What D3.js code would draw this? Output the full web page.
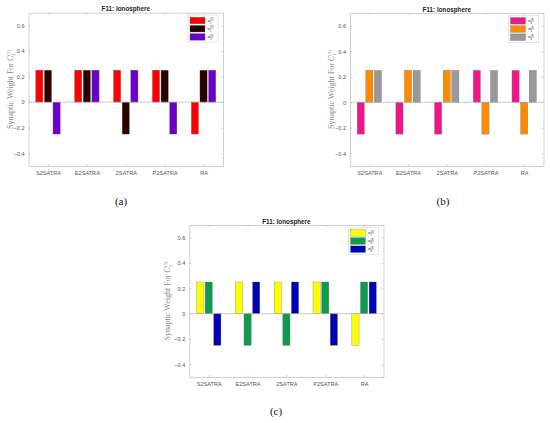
<!DOCTYPE html>
<html>
<head>
<meta charset="utf-8">
<script src="https://cdn.jsdelivr.net/npm/d3@7"></script>
<style>
  body { margin: 0; background: #fff; }
  svg { display: block; }
</style>
</head>
<body>
<script>
// methods on the x axis
var methods = ["S2SATRA", "E2SATRA", "2SATRA", "P2SATRA", "RA"];
var yTicks = [-0.4, -0.2, 0, 0.2, 0.4, 0.6];
var title = "F11: Ionosphere";

// panel (a)
var seriesA = [
  [0.25, 0.25, 0.25, 0.25, -0.25],
  [0.25, 0.25, -0.25, 0.25, 0.25],
  [-0.25, 0.25, 0.25, -0.25, 0.25]
];
var namesA = ["1", "2", "3"];
var colorsA = ["#ff0000", "#2a0000", "#6a00cc"];

// panel (b)
var seriesB = [
  [-0.25, -0.25, -0.25, 0.25, 0.25],
  [0.25, 0.25, 0.25, -0.25, -0.25],
  [0.25, 0.25, 0.25, 0.25, 0.25]
];
var namesB = ["4", "5", "6"];
var colorsB = ["#f0168a", "#ff8c00", "#999999"];

// panel (c)
var seriesC = [
  [0.25, 0.25, 0.25, 0.25, -0.25],
  [0.25, -0.25, -0.25, 0.25, 0.25],
  [-0.25, 0.25, 0.25, -0.25, 0.25]
];
var namesC = ["7", "8", "9"];
var colorsC = ["#ffff00", "#0f9a4e", "#0000b4"];

var svg = d3.select("body")
  .append("svg")
  .attr("width", 550)
  .attr("height", 423);

function panel(p) {
  var x = d3.scaleLinear().domain([0.5, 5.5]).range([p.left, p.right]);
  var y = d3.scaleLinear().domain([-0.5, 0.7]).range([p.bottom, p.top]);
  var g = svg.append("g");

  // grouped bars
  var offset = 0.222, bw = 0.185;
  p.series.forEach(function(vals, s) {
    g.selectAll(null)
      .data(vals)
      .enter()
      .append("rect")
        .attr("x", function(d, i) { return x(i + 1 + (s - 1) * offset - bw / 2); })
        .attr("width", x(1 + bw) - x(1))
        .attr("y", function(d) { return y(Math.max(0, d)); })
        .attr("height", function(d) { return Math.abs(y(d) - y(0)); })
        .style("fill", p.colors[s])
        .style("stroke", "#666")
        .style("stroke-width", 0.3);
  });

  // baseline
  g.append("line")
    .attr("x1", p.left).attr("x2", p.right)
    .attr("y1", y(0)).attr("y2", y(0))
    .style("stroke", "#aaa").style("stroke-width", 0.6);

  // axes (ticks inward)
  var fmt = function(d) { return d === 0 ? "0" : d3.format(".1f")(d); };
  var left = g.append("g")
    .attr("transform", "translate(" + p.left + ",0)")
    .call(d3.axisLeft(y).tickValues(yTicks).tickFormat(fmt).tickSizeInner(-2).tickSizeOuter(0).tickPadding(4));
  var right = g.append("g")
    .attr("transform", "translate(" + p.right + ",0)")
    .call(d3.axisRight(y).tickValues(yTicks).tickFormat("").tickSizeInner(-2).tickSizeOuter(0));
  var bottom = g.append("g")
    .attr("transform", "translate(0," + p.bottom + ")")
    .call(d3.axisBottom(x).tickValues([1, 2, 3, 4, 5])
      .tickFormat(function(d) { return methods[d - 1]; })
      .tickSizeInner(-2).tickSizeOuter(0).tickPadding(5));
  var top = g.append("g")
    .attr("transform", "translate(0," + p.top + ")")
    .call(d3.axisTop(x).tickValues([1, 2, 3, 4, 5]).tickFormat("").tickSizeInner(-2).tickSizeOuter(0));
  [left, right, bottom, top].forEach(function(a) {
    a.select(".domain").style("stroke", "#bbb").style("stroke-width", 0.7);
    a.selectAll(".tick line").style("stroke", "#bbb").style("stroke-width", 0.6);
    a.selectAll("text")
      .style("font-family", "Liberation Sans, Arial, sans-serif")
      .style("font-size", "5.6px")
      .style("fill", "#555");
  });

  // title
  g.append("text")
    .attr("x", (p.left + p.right) / 2)
    .attr("y", p.top - 1.5)
    .style("text-anchor", "middle")
    .style("font-family", "Liberation Sans, Arial, sans-serif")
    .style("font-weight", "bold")
    .style("font-size", "6.3px")
    .style("fill", "#222")
    .text(title);

  // y label
  var yl = g.append("text")
    .attr("transform", "translate(" + p.ylabX + "," + (p.top + p.bottom) / 2 + ") rotate(-90)")
    .style("text-anchor", "middle")
    .style("font-family", "Liberation Serif, Times New Roman, serif")
    .style("font-size", "8px")
    .style("fill", "#8a8a8a");
  yl.append("tspan").text("Synaptic Weight For ");
  yl.append("tspan").style("font-style", "italic").text("C");
  yl.append("tspan").attr("dy", 1.5).style("font-size", "5px").text("1");
  yl.append("tspan").attr("dx", -2.5).attr("dy", -5).style("font-size", "5px").text("(3)");

  // legend
  var lw = 30, lh = 27;
  var lx = p.right - 5 - lw, ly = p.top + 2.3;
  var leg = g.append("g").attr("transform", "translate(" + lx + "," + ly + ")");
  leg.append("rect")
    .attr("width", lw).attr("height", lh)
    .style("fill", "#fff").style("stroke", "#ccc").style("stroke-width", 0.5);
  p.names.forEach(function(n, i) {
    var row = leg.append("g").attr("transform", "translate(2," + (2.2 + i * 8.2) + ")");
    row.append("rect")
      .attr("width", 15).attr("height", 6.6)
      .style("fill", p.colors[i]).style("stroke", "#666").style("stroke-width", 0.3);
    var t = row.append("text")
      .attr("x", 17.5).attr("y", 4.6)
      .style("font-family", "Liberation Sans, Arial, sans-serif")
      .style("font-size", "3.6px")
      .style("fill", "#333");
    t.append("tspan").text("w");
    t.append("tspan").attr("dy", -1.6).style("font-size", "2.8px").text("(3)");
    t.append("tspan").attr("dx", -3.6).attr("dy", 3.4).style("font-size", "2.8px").text(n);
  });

  // caption
  g.append("text")
    .attr("x", p.capX)
    .attr("y", p.capY)
    .style("text-anchor", "middle")
    .style("font-family", "Liberation Serif, Times New Roman, serif")
    .style("font-size", "11px")
    .style("fill", "#111")
    .text(p.caption);
}

panel({ left: 28.5, right: 223, top: 12.7, bottom: 166, ylabX: 13, capX: 121, capY: 205,
        series: seriesA, names: namesA, colors: colorsA, caption: "(a)" });
panel({ left: 350, right: 543.5, top: 13, bottom: 166, ylabX: 334, capX: 443, capY: 205,
        series: seriesB, names: namesB, colors: colorsB, caption: "(b)" });
panel({ left: 189.3, right: 383.5, top: 225, bottom: 377, ylabX: 170, capX: 276, capY: 415,
        series: seriesC, names: namesC, colors: colorsC, caption: "(c)" });
</script>
</body>
</html>
